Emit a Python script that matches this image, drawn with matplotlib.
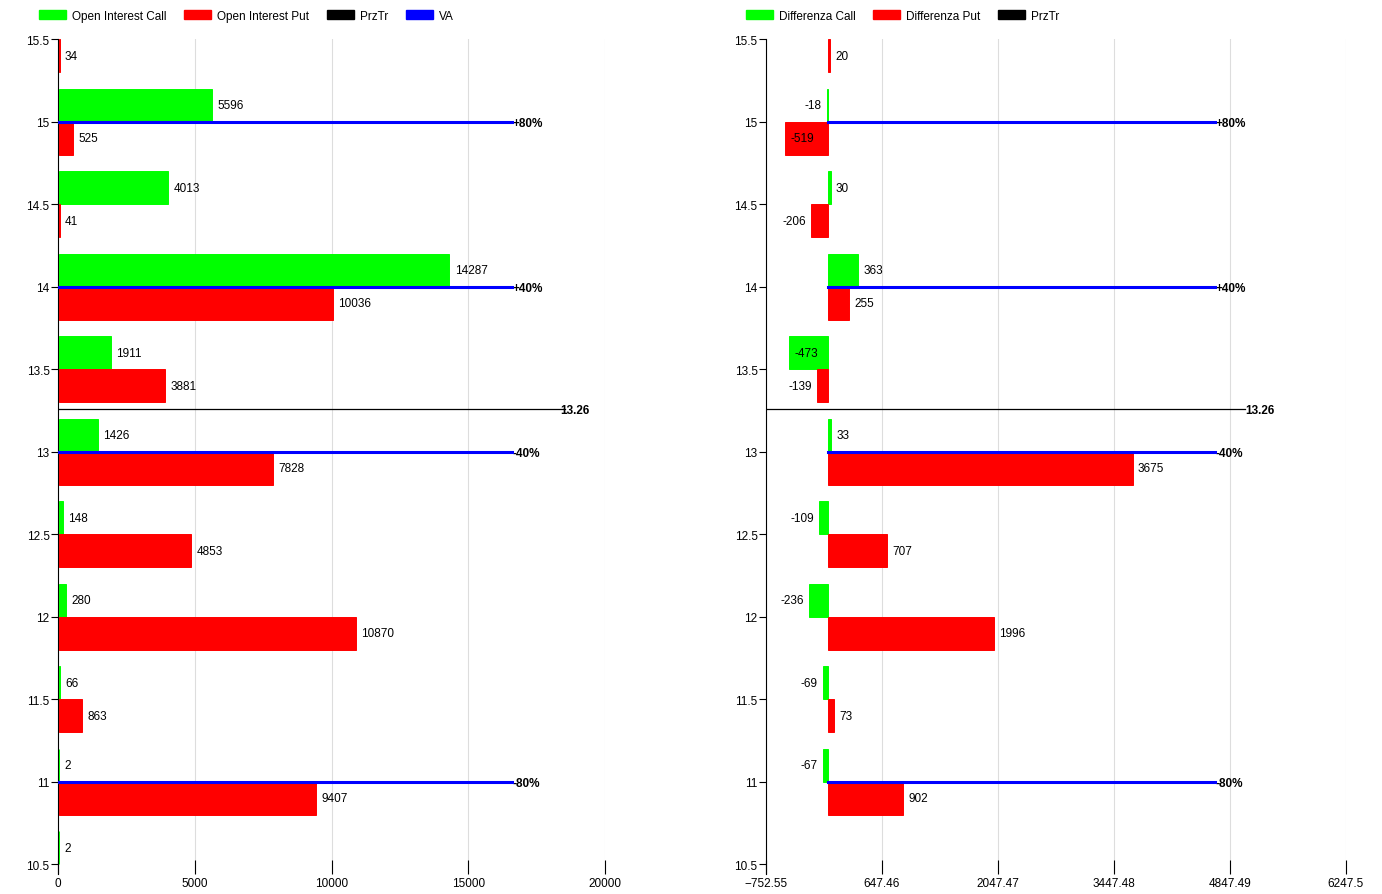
import matplotlib
matplotlib.use("Agg")
import matplotlib.pyplot as plt
from matplotlib.patches import Patch

plt.rcParams['font.family'] = ['Liberation Sans', 'DejaVu Sans']
plt.rcParams['font.size'] = 8.5

strikes = [10.5, 11, 11.5, 12, 12.5, 13, 13.5, 14, 14.5, 15, 15.5]
oi_call = [2, 2, 66, 280, 148, 1426, 1911, 14287, 4013, 5596, None]
oi_put = [None, 9407, 863, 10870, 4853, 7828, 3881, 10036, 41, 525, 34]
diff_call = [None, -67, -69, -236, -109, 33, -473, 363, 30, -18, None]
diff_put = [None, 902, 73, 1996, 707, 3675, -139, 255, -206, -519, 20]
va_levels = [15, 14, 13, 11]
va_labels = ['+80%', '+40%', '-40%', '-80%']
prz = 13.26
va_len_left, prz_len_left = 16600, 18550
va_len_right, prz_len_right = 4670, 5030
left_ticks = [0, 5000, 10000, 15000, 20000]
right_ticks = [-752.55, 647.46, 2047.47, 3447.48, 4847.49, 6247.5]

W, H = 1382, 895
fig = plt.figure(figsize=(W/100, H/100), dpi=100)
GREEN, RED, BLUE = '#00ff00', '#ff0000', '#0000ff'

def mk(x0, x1):
    return fig.add_axes([x0/W, 1-875/H, (x1-x0)/W, (875-40)/H])

def style(ax, ticks, labels, xlim):
    ax.set_xlim(*xlim)
    ax.set_ylim(10.44, 15.5)
    ax.set_yticks([10.5, 11, 11.5, 12, 12.5, 13, 13.5, 14, 14.5, 15, 15.5])
    ax.set_yticklabels(['10.5', '11', '11.5', '12', '12.5', '13', '13.5', '14', '14.5', '15', '15.5'])
    ax.set_xticks(ticks)
    ax.set_xticklabels(labels)
    for s in ['top', 'right', 'bottom']:
        ax.spines[s].set_visible(False)
    ax.tick_params(axis='x', direction='in', length=10, pad=2)
    ax.tick_params(axis='y', direction='out', length=5, pad=1)
    ax.grid(axis='x', color='#dddddd', lw=0.8)
    ax.set_axisbelow(True)

def bars(ax, calls, puts, xmin, off, span, shift):
    for k, c, p in zip(strikes, calls, puts):
        for v, y0, col in [(c, k, GREEN), (p, k-0.2, RED)]:
            if v is None:
                continue
            ax.barh(y0, v, left=shift, height=0.2, align='edge', color=col, edgecolor=col, lw=0.7, zorder=3)
            yc = y0 + 0.1
            if v >= 0 or v - span < xmin:
                ax.text(v + off, yc, str(v), ha='left', va='center')
            else:
                ax.text(v - off, yc, str(v), ha='right', va='center')

# left
ax1 = mk(58, 605)
style(ax1, left_ticks, [str(t) for t in left_ticks], (0, 20000))
bars(ax1, oi_call, oi_put, 0, 220, 0, 25)
for lv, lb in zip(va_levels, va_labels):
    ax1.plot([0, va_len_left], [lv, lv], color=BLUE, lw=2.2, zorder=4)
    ax1.text(va_len_left, lv - 0.01, lb, ha='left', va='center', fontweight='bold')
ax1.plot([0, prz_len_left], [prz, prz], color='black', lw=0.9)
ax1.text(prz_len_left - 200, prz - 0.01, '13.26', ha='left', va='center', fontweight='bold')

# right
xr = (-752.55, 6247.5)
ax2 = mk(766, 1346)
style(ax2, right_ticks, ['\u2212752.55', '647.46', '2047.47', '3447.48', '4847.49', '6247.5'], xr)
bars(ax2, diff_call, diff_put, xr[0], 60, 400, 0)
for lv, lb in zip(va_levels, va_labels):
    ax2.plot([0, va_len_right], [lv, lv], color=BLUE, lw=2.2, zorder=4)
    ax2.text(va_len_right, lv - 0.01, lb, ha='left', va='center', fontweight='bold')
ax2.plot([xr[0], prz_len_right], [prz, prz], color='black', lw=0.9)
ax2.text(prz_len_right, prz - 0.01, '13.26', ha='left', va='center', fontweight='bold')

kw = dict(frameon=False, ncol=4, handlelength=2.3, handleheight=0.8, columnspacing=1.5,
          handletextpad=0.5, fontsize=8.5, loc='center left')
fig.legend(handles=[Patch(color=GREEN, label='Open Interest Call'), Patch(color=RED, label='Open Interest Put'),
                    Patch(color='black', label='PrzTr'), Patch(color=BLUE, label='VA')],
           bbox_to_anchor=(28/W, 1-17/H), **kw)
fig.legend(handles=[Patch(color=GREEN, label='Differenza Call'), Patch(color=RED, label='Differenza Put'),
                    Patch(color='black', label='PrzTr')],
           bbox_to_anchor=(735/W, 1-17/H), **kw)

fig.savefig('out.png', dpi=100)
